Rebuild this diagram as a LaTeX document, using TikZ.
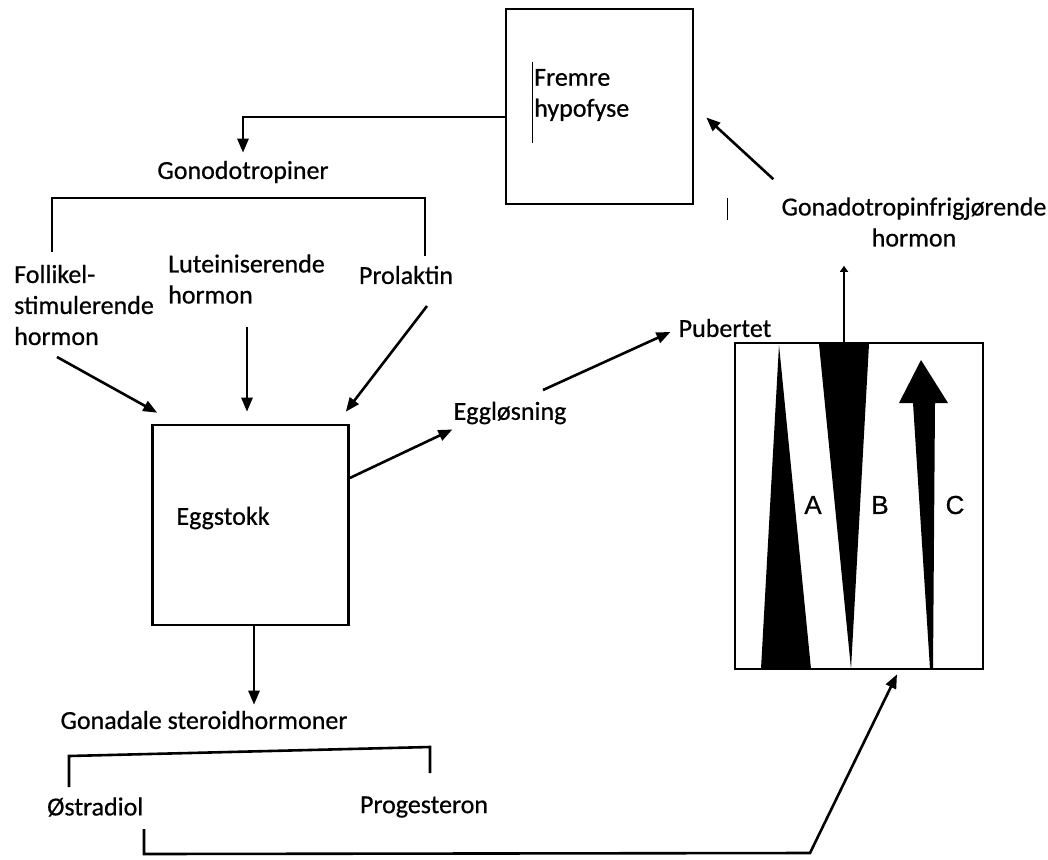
\documentclass[tikz,border=0pt]{standalone}
\usepackage{fontspec}
\setmainfont[FakeBold=0.6]{Carlito}
\newfontfamily\abcfont[FakeBold=0.6]{Liberation Sans}
\usetikzlibrary{arrows.meta}

\begin{document}
\begin{tikzpicture}[x=1pt,y=-1pt,font=\fontsize{26}{31}\selectfont,
  box/.style={draw,line width=2.6pt,inner sep=0pt},
  lbl/.style={inner sep=1pt,align=left},
  bar/.style={line width=2.6pt},
  arr/.style={line width=2.6pt,-{Triangle[length=14pt,width=11pt]}},
  abc/.style={font=\abcfont\fontsize{26}{30}\selectfont}]
  \useasboundingbox (0,0) rectangle (1048,859);

  % hypofyse and eggstokk
  \node[box,minimum width=187pt,minimum height=195pt] (hyp) at (599.5,106.5) {};
  \node[lbl,anchor=west] (hyptxt) at (533,95) {Fremre\\hypofyse};
  \draw[line width=0.8pt] (532,62) -- (532,143);
  \node[box,minimum width=196pt,minimum height=200pt] (egg) at (250.5,525) {};
  \node[lbl] (eggtxt) at (223,518) {Eggstokk};

  % puberty panel: A, B, C
  \fill (779,345) -- (811,669) -- (761,669) -- cycle;
  \fill (819,344) -- (869,344) -- (851,669) -- cycle;
  \fill (930,669) -- (913,403) -- (899,403) -- (921,360) -- (948,403)
    -- (935,403) -- (933,669) -- cycle;
  \node[box,minimum width=248pt,minimum height=326pt] (pub) at (859,506) {};
  \node[abc] (la) at (813,505) {A};
  \node[abc] (lb) at (880,505) {B};
  \node[abc] (lc) at (955,505) {C};

  % labels
  \node[lbl] (gon) at (243,172) {Gonodotropiner};
  \node[lbl,anchor=west] (fsh) at (13,305) {Follikel-\\stimulerende\\hormon};
  \node[lbl,anchor=west] (lh) at (167,279) {Luteiniserende\\hormon};
  \node[lbl] (prl) at (406,275) {Prolaktin};
  \node[lbl] (ovu) at (510,413) {Eggløsning};
  \node[lbl] (pubt) at (725,328) {Pubertet};
  \node[lbl,align=center] (gnrh) at (914,222) {Gonadotropinfrigjørende\\hormon};
  \draw[line width=0.8pt] (727,198) -- (727,220);
  \node[lbl] (ster) at (204,720) {Gonadale steroidhormoner};
  \node[lbl,anchor=west] (oes) at (46,807) {Østradiol};
  \node[lbl] (prog) at (424,807) {Progesteron};

  % free ends
  \coordinate (gonL) at (52,252);
  \coordinate (gonR) at (425,256);
  \coordinate (fshout) at (57,357);
  \coordinate (lhout) at (247,327);
  \coordinate (prlout) at (427,306);
  \coordinate (ovuout) at (543,390);
  \coordinate (pubtop) at ([xshift=-15pt]pub.north);
  \coordinate (eggbot) at ([xshift=3.5pt]egg.south);
  \coordinate (stL) at (69,787);
  \coordinate (stR) at (430,773);
  \coordinate (oesout) at (144,829);

  % connectors
  \draw[arr] ([yshift=-10.5pt]hyp.west) -| ([yshift=7pt]gon.north);
  \draw[bar] (gonL) |- ([yshift=-13.5pt]gon.south) -| (gonR);
  \draw[arr] (fshout) -- ([shift={(6,-11)}]egg.north west);
  \draw[arr,shorten >=12pt] (lhout) -- (lhout |- egg.north);
  \draw[arr] (prlout) -- ([shift={(-4,-12)}]egg.north east);
  \draw[arr] ([yshift=47pt]egg.east) -- ([yshift=-4pt]ovu.south west);
  \draw[arr] (ovuout) -- ([shift={(-7,4)}]pubt.west);
  \draw[arr] ([shift={(-7,-17)}]gnrh.north west) -- ([shift={(12,11)}]hyp.east);
  \draw[line width=2.6pt,-{Triangle[length=6pt,width=8pt]},shorten >=18pt]
    (pubtop) -- (pubtop |- gnrh.south);
  \draw[arr,shorten >=5pt] (eggbot) -- (eggbot |- ster.north);
  \draw[bar] (stL) -- ++(0,-31) -- ++(361,-9) -- (stR);
  \draw[arr] (oesout) -- ++(0,25) -- ++(666,-1) -- ([shift={(38,4)}]pub.south);
\end{tikzpicture}
\end{document}
